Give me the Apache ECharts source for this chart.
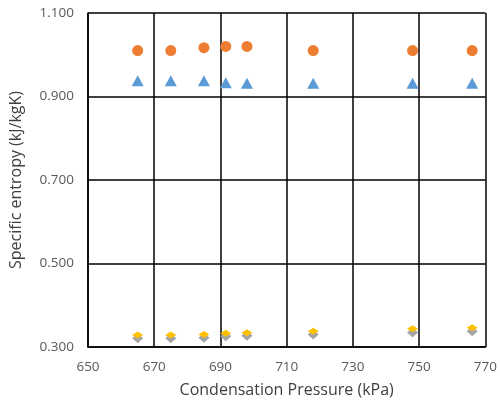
<!DOCTYPE html>
<html>
<head>
<meta charset="utf-8">
<script src="https://cdn.jsdelivr.net/npm/echarts@6/dist/echarts.min.js"></script>
<style>
  html, body { margin: 0; padding: 0; background: #fff; }
  #chart { width: 500px; height: 408px; }
</style>
</head>
<body>
<div id="chart"></div>
<script>
// Condensation pressure (kPa)
const pressure = [665, 675, 685, 691.6, 698, 718, 748, 766];

// Specific entropy (kJ/kgK), one array per point series
const blueTriangle = [0.938, 0.938, 0.938, 0.933, 0.932, 0.932, 0.932, 0.932];
const orangeCircle = [1.010, 1.010, 1.017, 1.020, 1.020, 1.010, 1.010, 1.010];
const greyDiamond = [0.321, 0.321, 0.322, 0.326, 0.327, 0.330, 0.335, 0.338];
const yellowMark = [0.329, 0.329, 0.330, 0.333, 0.334, 0.338, 0.344, 0.346];

const pairs = (ys) => pressure.map((x, i) => [x, ys[i]]);

const chart = echarts.init(document.getElementById('chart'));
const font = 'Open Sans';

chart.setOption({
    backgroundColor: '#fff',
    animation: false,
    grid: { left: 87, right: 13, top: 13, bottom: 61 },
    xAxis: {
        type: 'value',
        min: 650,
        max: 770,
        interval: 20,
        name: 'Condensation Pressure (kPa)',
        nameLocation: 'middle',
        nameGap: 35,
        nameTextStyle: { color: '#404040', fontSize: 16, fontFamily: font },
        axisLine: { lineStyle: { color: '#000', width: 1.5 } },
        axisTick: { show: false },
        axisLabel: { color: '#595959', fontSize: 13.5, fontFamily: font, margin: 13 },
        splitLine: { lineStyle: { color: '#000', width: 1.5 } }
    },
    yAxis: {
        type: 'value',
        min: 0.3,
        max: 1.1,
        interval: 0.2,
        name: 'Specific entropy (kJ/kgK)',
        nameLocation: 'middle',
        nameGap: 64,
        nameTextStyle: { color: '#404040', fontSize: 16, fontFamily: font },
        axisLine: { lineStyle: { color: '#000', width: 1.5 } },
        axisTick: { show: false },
        axisLabel: {
            color: '#595959', fontSize: 13.5, fontFamily: font, margin: 14,
            formatter: (v) => v.toFixed(3)
        },
        splitLine: { lineStyle: { color: '#000', width: 1.5 } }
    },
    series: [
        {
            name: 'blue',
            type: 'scatter',
            symbol: 'triangle',
            symbolSize: [12, 11],
            itemStyle: { color: '#5B9BD5', opacity: 1 },
            data: pairs(blueTriangle)
        },
        {
            name: 'orange',
            type: 'scatter',
            symbol: 'circle',
            symbolSize: 11,
            itemStyle: { color: '#ED7D31', opacity: 1 },
            data: pairs(orangeCircle)
        },
        {
            name: 'grey',
            type: 'scatter',
            symbol: 'diamond',
            symbolSize: [11, 10],
            itemStyle: { color: '#A5A5A5', opacity: 1 },
            data: pairs(greyDiamond)
        },
        {
            name: 'yellow',
            type: 'scatter',
            symbol: 'diamond',
            symbolSize: [11, 7],
            itemStyle: { color: '#FFC000', opacity: 1 },
            data: pairs(yellowMark)
        }
    ]
});
</script>
</body>
</html>
